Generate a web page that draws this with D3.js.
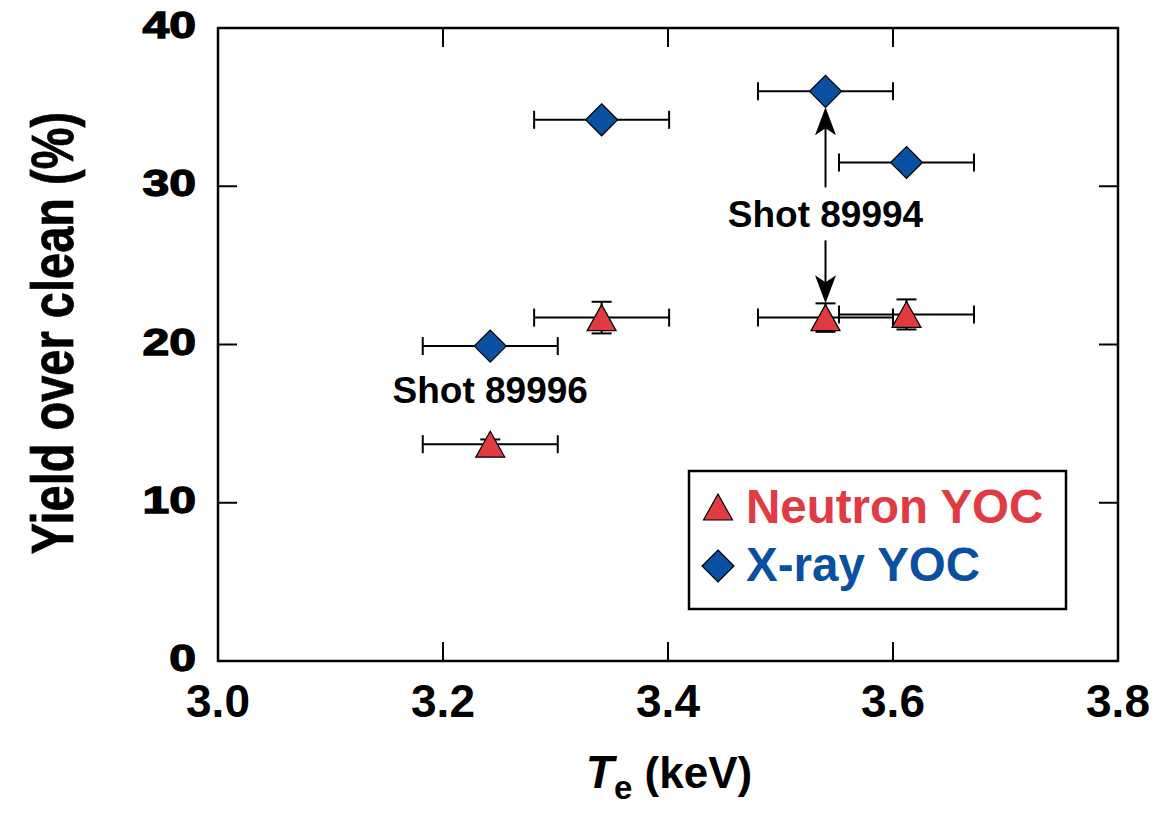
<!DOCTYPE html>
<html>
<head>
<meta charset="utf-8">
<script src="https://cdn.jsdelivr.net/npm/d3@7"></script>
<style>
  body { margin: 0; background: #fff; }
  svg { display: block; font-family: "Liberation Sans", Arial, Helvetica, sans-serif; font-weight: bold; }
</style>
</head>
<body>
<div id="chart"></div>
<script>
// electron temperature (keV) of each shot, with its uncertainty
var te = [3.242, 3.341, 3.540, 3.612];
var teErr = [0.06, 0.06, 0.06, 0.06];

// yield over clean (%)
var neutronYoc = [13.7, 21.7, 21.7, 21.9];
var neutronErr = [0.3, 1.0, 0.9, 0.95];
var xrayYoc = [19.9, 34.2, 36.0, 31.5];

var xTicks = [3.0, 3.2, 3.4, 3.6, 3.8];
var yTicks = [0, 10, 20, 30, 40];

// shot labels: text, x (keV), baseline (%)
var shotLabels = ['Shot 89996', 'Shot 89994'];
var shotLabelX = [3.242, 3.540];
var shotLabelY = [16.3, 27.4];

var legendNames = ['Neutron YOC', 'X-ray YOC'];

var red = '#e03b43';
var blue = '#0a50a0';

var width = 1168, height = 822;
var margin = {top: 28, right: 50, bottom: 161, left: 218};
var w = width - margin.left - margin.right;
var h = height - margin.top - margin.bottom;

var svg = d3.select('#chart')
  .append('svg')
  .attr('width', width)
  .attr('height', height);

var x = d3.scaleLinear().domain([3.0, 3.8]).range([margin.left, margin.left + w]);
var y = d3.scaleLinear().domain([0, 40]).range([margin.top + h, margin.top]);

var tickLen = 19;

// inward ticks on all four sides
var inner = xTicks.slice(1, -1);
var innerY = yTicks.slice(1, -1);
var ticks = svg.append('g').attr('stroke', '#000').attr('stroke-width', 2);
inner.forEach(function(t) {
  ticks.append('line').attr('x1', x(t)).attr('x2', x(t)).attr('y1', y(0)).attr('y2', y(0) - tickLen);
  ticks.append('line').attr('x1', x(t)).attr('x2', x(t)).attr('y1', y(40)).attr('y2', y(40) + tickLen);
});
innerY.forEach(function(t) {
  ticks.append('line').attr('x1', x(3.0)).attr('x2', x(3.0) + tickLen).attr('y1', y(t)).attr('y2', y(t));
  ticks.append('line').attr('x1', x(3.8)).attr('x2', x(3.8) - tickLen).attr('y1', y(t)).attr('y2', y(t));
});

svg.append('rect')
  .attr('x', x(3.0)).attr('y', y(40))
  .attr('width', x(3.8) - x(3.0)).attr('height', y(0) - y(40))
  .attr('fill', 'none').attr('stroke', '#000').attr('stroke-width', 2.5);

// tick labels
svg.append('g').selectAll('text')
  .data(xTicks).enter()
  .append('text')
  .attr('x', function(d) { return x(d); })
  .attr('y', 717)
  .attr('text-anchor', 'middle')
  .attr('font-size', 46)
  .text(function(d) { return d3.format('.1f')(d); });

svg.append('g').selectAll('text')
  .data(yTicks).enter()
  .append('text')
  .attr('transform', function(d) { return 'translate(196,' + (y(d) + 10) + ') scale(1.3,1)'; })
  .attr('text-anchor', 'end')
  .attr('font-size', 37)
  .attr('stroke', '#000').attr('stroke-width', 1.3)
  .text(function(d) { return d; });

// axis titles
svg.append('text')
  .attr('transform', 'translate(73,333) scale(1.27,1) rotate(-90)')
  .attr('text-anchor', 'middle')
  .attr('font-size', 47)
  .attr('stroke', '#000').attr('stroke-width', 0.6)
  .text('Yield over clean (%)');

var xt = svg.append('text')
  .attr('x', 669).attr('y', 788)
  .attr('text-anchor', 'middle')
  .attr('font-size', 44);
xt.append('tspan').attr('font-style', 'italic').attr('font-size', 46).text('T');
xt.append('tspan').attr('font-size', 33).attr('dy', 11).text('e');
xt.append('tspan').attr('dy', -11).text(' (keV)');

// error bars
var eb = svg.append('g').attr('stroke', '#000').attr('stroke-width', 2);
te.forEach(function(t, i) {
  [xrayYoc[i], neutronYoc[i]].forEach(function(v) {
    var y0 = y(v);
    eb.append('line').attr('x1', x(t - teErr[i])).attr('x2', x(t + teErr[i])).attr('y1', y0).attr('y2', y0);
    eb.append('line').attr('x1', x(t - teErr[i])).attr('x2', x(t - teErr[i])).attr('y1', y0 - 9).attr('y2', y0 + 9);
    eb.append('line').attr('x1', x(t + teErr[i])).attr('x2', x(t + teErr[i])).attr('y1', y0 - 9).attr('y2', y0 + 9);
  });
  var yl = y(neutronYoc[i] - neutronErr[i]), yh = y(neutronYoc[i] + neutronErr[i]);
  eb.append('line').attr('x1', x(t)).attr('x2', x(t)).attr('y1', yl).attr('y2', yh);
  eb.append('line').attr('x1', x(t) - 10).attr('x2', x(t) + 10).attr('y1', yl).attr('y2', yl);
  eb.append('line').attr('x1', x(t) - 10).attr('x2', x(t) + 10).attr('y1', yh).attr('y2', yh);
});

var triPath = 'M0,-13L14.5,13L-14.5,13Z';
var diaPath = 'M0,-16L16,0L0,16L-16,0Z';

svg.append('g').selectAll('path')
  .data(te).enter()
  .append('path')
  .attr('d', triPath)
  .attr('transform', function(d, i) { return 'translate(' + x(d) + ',' + y(neutronYoc[i]) + ')'; })
  .attr('fill', red).attr('stroke', '#000').attr('stroke-width', 1.2);

svg.append('g').selectAll('path')
  .data(te).enter()
  .append('path')
  .attr('d', diaPath)
  .attr('transform', function(d, i) { return 'translate(' + x(d) + ',' + y(xrayYoc[i]) + ')'; })
  .attr('fill', blue).attr('stroke', '#000').attr('stroke-width', 1.2);

// shot labels
svg.append('g').selectAll('text')
  .data(shotLabels).enter()
  .append('text')
  .attr('x', function(d, i) { return x(shotLabelX[i]); })
  .attr('y', function(d, i) { return y(shotLabelY[i]); })
  .attr('text-anchor', 'middle')
  .attr('font-size', 37)
  .text(function(d) { return d; });

// arrows from the 89994 label to its two points
function arrow(x0, yFrom, yTo) {
  var dir = yTo < yFrom ? -1 : 1;
  var headLen = 28, headW = 10.5;
  svg.append('line')
    .attr('x1', x0).attr('x2', x0)
    .attr('y1', yFrom).attr('y2', yTo - dir * headLen * 0.7)
    .attr('stroke', '#000').attr('stroke-width', 2);
  svg.append('path')
    .attr('d', 'M' + x0 + ',' + yTo +
      'L' + (x0 + headW) + ',' + (yTo - dir * headLen) +
      'L' + x0 + ',' + (yTo - dir * headLen * 0.75) +
      'L' + (x0 - headW) + ',' + (yTo - dir * headLen) + 'Z')
    .attr('fill', '#000');
}
var ax = x(shotLabelX[1]);
var labTop = y(shotLabelY[1]) - 27;
var labBase = y(shotLabelY[1]);
arrow(ax, labTop - 13, y(xrayYoc[2]) + 16);
arrow(ax, labBase + 13, y(neutronYoc[2] + neutronErr[2]));

// legend
var lg = svg.append('g');
lg.append('rect')
  .attr('x', 689).attr('y', 471).attr('width', 377).attr('height', 138)
  .attr('fill', '#fff').attr('stroke', '#000').attr('stroke-width', 2.5);
var legendMarks = [triPath, diaPath];
var legendFill = [red, blue];
legendNames.forEach(function(name, i) {
  var cy = 507 + i * 59;
  lg.append('path')
    .attr('d', legendMarks[i])
    .attr('transform', 'translate(718,' + cy + ')')
    .attr('fill', legendFill[i]).attr('stroke', '#000').attr('stroke-width', 1.2);
  lg.append('text')
    .attr('x', 746).attr('y', 523 + i * 58)
    .attr('font-size', 47.5)
    .attr('fill', legendFill[i])
    .text(name);
});
</script>
</body>
</html>
